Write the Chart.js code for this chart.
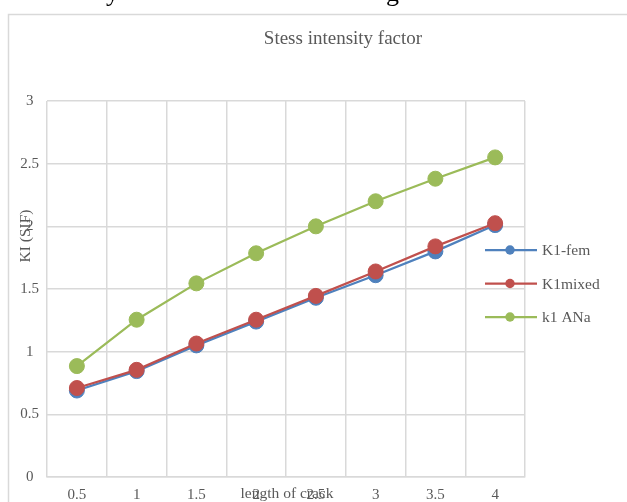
<!DOCTYPE html>
<html>
<head>
<meta charset="utf-8">
<title>Stess intensity factor</title>
<script src="https://cdn.jsdelivr.net/npm/chart.js@4.4.1/dist/chart.umd.min.js"></script>
<style>
html, body { margin: 0; padding: 0; background: #fff; }
#wrap { position: relative; width: 627px; height: 502px; overflow: hidden; }
#chart { position: absolute; left: 0; top: 0; }
.frag { position: absolute; font-family: "Liberation Serif", "Times New Roman", serif; font-size: 26px; line-height: 1; color: #000; }
</style>
</head>
<body>
<div id="wrap">
  <canvas id="chart" width="627" height="502"></canvas>
  <span class="frag" style="left:106px; top:-20px;">y</span>
  <span class="frag" style="left:386px; top:-20px;">g</span>
</div>
<script>
/* ---- dados ---- */
var CRACK_LEN = ['0.5', '1', '1.5', '2', '2.5', '3', '3.5', '4'];
var K1_FEM    = [0.69, 0.845, 1.05, 1.24, 1.43, 1.61, 1.80, 2.01];
var K1_MIXED  = [0.71, 0.855, 1.065, 1.255, 1.445, 1.64, 1.84, 2.025];
var K1_ANA    = [0.885, 1.255, 1.545, 1.785, 2.0, 2.2, 2.38, 2.55];
var Y_TICKS   = [0, 0.5, 1, 1.5, 2, 2.5, 3];

var SERIF = '"Liberation Serif", "Times New Roman", serif';
var GREY  = '#595959';
var GRID  = '#d9d9d9';

function serie(label, data, cor, ordem) {
    return {
        label: label, data: data, order: ordem,
        borderColor: cor, backgroundColor: cor,
        borderWidth: 2.25,
        pointRadius: 7.5, pointHoverRadius: 7.5,
        pointBorderWidth: 1, pointBorderColor: cor, pointBackgroundColor: cor,
        tension: 0
    };
}

/* moldura externa do grafico */
var frame = {
    id: 'frame',
    beforeDraw: function(chart) {
        var c = chart.ctx;
        c.save();
        c.fillStyle = '#fff';
        c.fillRect(8, 14, chart.width, chart.height);
        c.strokeStyle = GRID;
        c.lineWidth = 1.5;
        c.beginPath();
        c.moveTo(8.5, chart.height);
        c.lineTo(8.5, 14.5);
        c.lineTo(chart.width, 14.5);
        c.stroke();
        c.restore();
    }
};

/* titulo e titulos dos eixos (por cima dos rotulos, como no Excel) */
var titles = {
    id: 'titles',
    afterDraw: function(chart) {
        var c = chart.ctx;
        c.save();
        c.fillStyle = GREY;
        c.textAlign = 'center';
        c.textBaseline = 'middle';
        c.font = '19px ' + SERIF;
        c.fillText('Stess intensity factor', 343, 39);
        c.font = '15.5px ' + SERIF;
        c.fillText('length of crack', 287, 494);
        c.translate(26, 236);
        c.rotate(-Math.PI / 2);
        c.fillText('KI (SIF)', 0, 0);
        c.restore();
    }
};

/* legenda a direita */
var sideLegend = {
    id: 'sideLegend',
    afterDraw: function(chart) {
        var c = chart.ctx;
        c.save();
        c.font = '15.5px ' + SERIF;
        c.textBaseline = 'middle';
        c.textAlign = 'left';
        chart.data.datasets.forEach(function(ds, i) {
            var y = 250 + i * 33.5;
            c.strokeStyle = ds.borderColor;
            c.lineWidth = 2.25;
            c.beginPath();
            c.moveTo(485, y);
            c.lineTo(537, y);
            c.stroke();
            c.fillStyle = ds.borderColor;
            c.beginPath();
            c.arc(510, y, 4.7, 0, Math.PI * 2);
            c.fill();
            c.fillStyle = GREY;
            c.fillText(ds.label, 542, y + 1);
        });
        c.restore();
    }
};

new Chart(document.getElementById('chart'), {
    type: 'line',
    data: {
        labels: CRACK_LEN,
        datasets: [
            serie('K1-fem',  K1_FEM,   '#4f81bd', 3),
            serie('K1mixed', K1_MIXED, '#c0504d', 2),
            serie('k1 ANa',  K1_ANA,   '#9bbb59', 1)
        ]
    },
    options: {
        responsive: false, animation: false,
        layout: { padding: { left: 0, right: 102, top: 101, bottom: 0 } },
        plugins: {
            legend: { display: false },
            tooltip: { enabled: false },
            title: { display: false }
        },
        scales: {
            x: {
                offset: true,
                grid: { offset: true, color: GRID, lineWidth: 1.5, drawTicks: false },
                border: { color: GRID, width: 1.5 },
                ticks: { color: GREY, font: { family: SERIF, size: 15 }, padding: 9, maxRotation: 0 },
                afterFit: function(s) { s.height = 25; }
            },
            y: {
                min: 0, max: 3,
                afterBuildTicks: function(s) { s.ticks = Y_TICKS.map(function(v) { return { value: v }; }); },
                grid: { color: GRID, lineWidth: 1.5, drawTicks: false },
                border: { display: false },
                ticks: {
                    color: GREY, font: { family: SERIF, size: 15 }, padding: 8, crossAlign: 'center',
                    callback: function(v) { return String(v); }
                },
                afterFit: function(s) { s.width = 47; }
            }
        }
    },
    plugins: [frame, titles, sideLegend]
});
</script>
</body>
</html>
